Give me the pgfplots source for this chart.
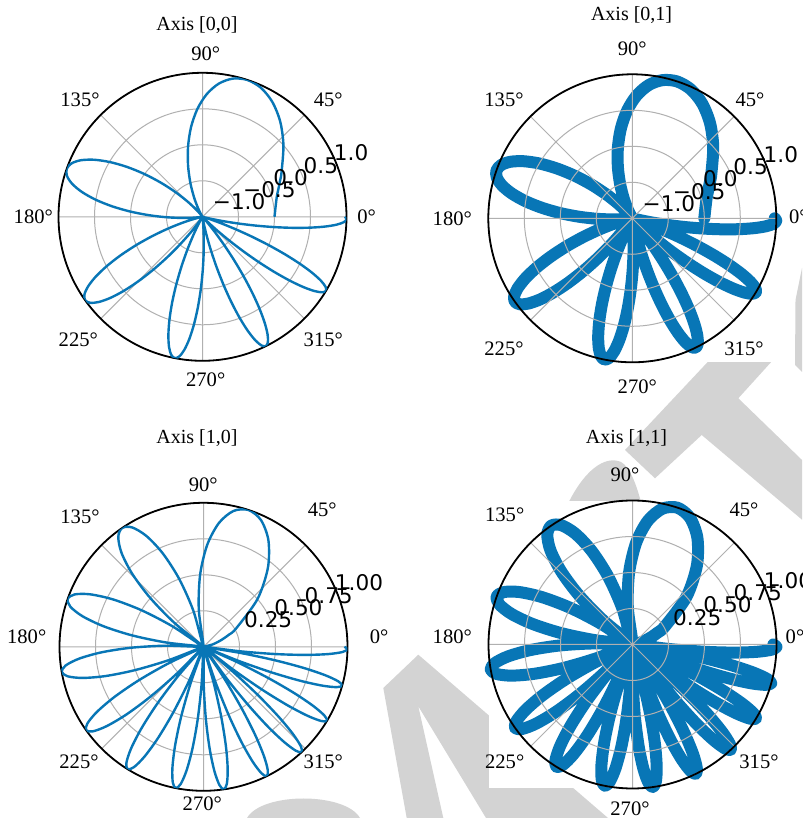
\documentclass[border=0pt]{standalone}
\usepackage{fontspec}
\setmainfont{Liberation Serif}
\newfontfamily\dejavu{DejaVu Sans}
\usepackage{pgfplots}
\usepgfplotslibrary{polar}
\pgfplotsset{compat=1.18}
\usepackage{pgfplotstable}
\definecolor{lineblue}{RGB}{8,118,182}
\definecolor{wm}{RGB}{211,211,211}
\definecolor{gridgray}{RGB}{176,176,176}

\pgfplotstableread{
t r
0 0
14.658 0.0654
20.730 0.1305
25.389 0.1951
29.316 0.2588
41.459 0.5
50.777 0.7071
58.632 0.8660
65.553 0.9659
71.809 1
77.563 0.9659
82.918 0.8660
87.948 0.7071
92.705 0.5
97.230 0.2588
101.553 0
105.700 -0.2588
109.690 -0.5
113.540 -0.7071
117.264 -0.8660
120.873 -0.9659
124.377 -1
127.785 -0.9659
131.105 -0.8660
134.342 -0.7071
137.504 -0.5
140.594 -0.2588
143.618 0
146.580 0.2588
149.483 0.5
152.330 0.7071
155.126 0.8660
157.871 0.9659
160.570 1
163.224 0.9659
165.836 0.8660
168.407 0.7071
170.940 0.5
173.435 0.2588
175.896 0
178.322 -0.2588
180.716 -0.5
183.078 -0.7071
185.411 -0.8660
187.714 -0.9659
189.990 -1
192.238 -0.9659
194.461 -0.8660
196.658 -0.7071
198.831 -0.5
200.981 -0.2588
203.108 0
205.212 0.2588
207.295 0.5
209.358 0.7071
211.400 0.8660
213.423 0.9659
215.427 1
217.413 0.9659
219.380 0.8660
221.330 0.7071
223.263 0.5
225.180 0.2588
227.080 0
228.965 -0.2588
230.834 -0.5
232.688 -0.7071
234.528 -0.8660
236.353 -0.9659
238.164 -1
239.961 -0.9659
241.746 -0.8660
243.517 -0.7071
245.275 -0.5
247.021 -0.2588
248.754 0
250.476 0.2588
252.186 0.5
253.884 0.7071
255.571 0.8660
257.247 0.9659
258.912 1
260.566 0.9659
262.210 0.8660
263.844 0.7071
265.468 0.5
267.081 0.2588
268.686 0
270.280 -0.2588
271.865 -0.5
273.442 -0.7071
275.009 -0.8660
276.567 -0.9659
278.116 -1
279.657 -0.9659
281.189 -0.8660
282.713 -0.7071
284.229 -0.5
285.737 -0.2588
287.237 0
288.729 0.2588
290.213 0.5
291.690 0.7071
293.160 0.8660
294.622 0.9659
296.077 1
297.525 0.9659
298.966 0.8660
300.400 0.7071
301.827 0.5
303.247 0.2588
304.661 0
306.068 -0.2588
307.469 -0.5
308.863 -0.7071
310.251 -0.8660
311.633 -0.9659
313.009 -1
314.379 -0.9659
315.743 -0.8660
317.101 -0.7071
318.453 -0.5
319.800 -0.2588
321.141 0
322.476 0.2588
323.806 0.5
325.130 0.7071
326.449 0.8660
327.763 0.9659
329.071 1
330.374 0.9659
331.673 0.8660
332.966 0.7071
334.254 0.5
335.537 0.2588
336.815 0
338.089 -0.2588
339.358 -0.5
340.622 -0.7071
341.881 -0.8660
343.136 -0.9659
344.386 -1
345.632 -0.9659
346.872 -0.8660
348.109 -0.7071
349.341 -0.5
350.569 -0.2588
351.792 0
353.011 0.2588
354.227 0.5
355.438 0.7071
356.645 0.8660
357.847 0.9659
359.046 1
360 0.9783
}\datatable

\pgfplotsset{
  mypolar/.style={
    width=144pt, height=144pt, scale only axis,
    anchor=center,
    xmin=0, xmax=360, ymin=0, ymax=1,
    xtick={0,45,...,315}, ytick={0.25,0.5,0.75,1},
    tick label style={opacity=0, text opacity=0},
    grid=major,
    major grid style={gridgray, line width=0.5pt},
    axis line style={black, line width=0.9pt},
    y axis line style={draw=none},
    major tick length=0pt,
  },
  lineplot/.style={lineblue, line width=1.2pt, line join=round, no markers, smooth},
  scatplot/.style={lineblue, line width=6pt, line join=round, line cap=round, no markers, smooth},
}

\newcommand{\anglab}[2]{\node[font=\fontsize{10.3}{12}\selectfont, inner sep=0pt] at (#1) {#2};}
\newcommand{\rlab}[3]{\node[font=\dejavu\fontsize{10.8}{12}\selectfont, anchor=base west, inner sep=0pt] at (#1pt,#2pt) {#3};}

\begin{document}
\begin{tikzpicture}[x=1pt,y=1pt]
\useasboundingbox (0,0) rectangle (401,409);
\fill[white] (0,0) rectangle (401,409);

% watermark shapes behind the panels
\fill[wm] (354.8,229) -- (386.5,229) -- (369.15,209.85) -- (401,179) -- (401,149.15)
  -- (350.85,191.5) -- (327.5,169.85) -- (312.5,184) -- cycle;
\fill[wm] (401,275) -- (397.75,259) -- (397.5,226.5) -- (401,223) -- cycle;
\fill[wm] (203.35,0) -- (191.65,65) -- (209.15,81.65) -- (304,0) -- (243,0)
  -- (209.15,55.85) -- (221.65,0) -- cycle;
\fill[wm] (123.5,0) .. controls (131,13) and (172.5,13) .. (180,0) -- cycle;
\fill[wm] (282.5,154) .. controls (291.5,174) and (302.5,181.5) .. (310.5,178)
  .. controls (315,175.5) and (318.5,166.5) .. (321.5,154) -- cycle;

% white axes backgrounds
\fill[white] (244.5,228.2) rectangle (387.8,371.5);
\fill[white] (244.6,15.15) rectangle (387.9,158.35);

% Axis [0,0]
\begin{polaraxis}[mypolar, at={(101.25pt,300.6pt)}]
\addplot[lineplot] table[x=t, y expr={(\thisrow{r}+1)/2}] {\datatable};
\end{polaraxis}

% Axis [0,1]
\begin{polaraxis}[mypolar, at={(316.15pt,299.85pt)}, clip=false, axis on top]
\addplot[scatplot] table[x=t, y expr={(\thisrow{r}+1)/2}] {\datatable};
\end{polaraxis}

% Axis [1,0]
\begin{polaraxis}[mypolar, at={(101.75pt,85.6pt)}]
\addplot[lineplot] table[x=t, y expr={abs(\thisrow{r})}] {\datatable};
\end{polaraxis}

% Axis [1,1]
\begin{polaraxis}[mypolar, at={(316.25pt,86.75pt)}, clip=false, axis on top]
\addplot[scatplot] table[x=t, y expr={abs(\thisrow{r})}] {\datatable};
\end{polaraxis}

% titles
\node[font=\fontsize{10}{12}\selectfont] at (98.5,396.5) {Axis [0,0]};
\node[font=\fontsize{10}{12}\selectfont] at (315.8,401.5) {Axis [0,1]};
\node[font=\fontsize{10}{12}\selectfont] at (98.5,189.8) {Axis [1,0]};
\node[font=\fontsize{10}{12}\selectfont] at (313.2,189.8) {Axis [1,1]};

% angle labels
\anglab{102.85,382.35}{90°}\anglab{164.15,359}{45°}\anglab{183.35,300.65}{0°}\anglab{40,359}{135°}
\anglab{16.65,300.65}{180°}\anglab{39.15,239}{225°}\anglab{102.85,219}{270°}\anglab{161.65,239}{315°}

\anglab{316.15,384.85}{90°}\anglab{375,359}{45°}\anglab{399.15,300.65}{0°}\anglab{252,359}{135°}
\anglab{226.15,299.85}{180°}\anglab{252,234.85}{225°}\anglab{318.65,215.65}{270°}\anglab{372,234.85}{315°}

\anglab{101.65,166.5}{90°}\anglab{161.15,154}{45°}\anglab{189.6,90.65}{0°}\anglab{40,150.65}{135°}
\anglab{13.35,90.65}{180°}\anglab{39.5,28.15}{225°}\anglab{101.15,7.35}{270°}\anglab{161.65,28.15}{315°}

\anglab{312.5,171.5}{90°}\anglab{372,154}{45°}\anglab{397.5,90.65}{0°}\anglab{252.35,151.5}{135°}
\anglab{226.15,90.65}{180°}\anglab{252.35,28.15}{225°}\anglab{315,4.85}{270°}\anglab{379.5,28.15}{315°}

% radial tick labels
\begin{scope}[shift={(101.25,300.6)}]
\rlab{5}{3.5}{−1.0}\rlab{20.125}{9.625}{−0.5}\rlab{35.25}{15.75}{0.0}\rlab{50.375}{21.875}{0.5}\rlab{65.5}{28}{1.0}
\end{scope}
\begin{scope}[shift={(316.15,299.85)}]
\rlab{5}{3.5}{−1.0}\rlab{20.125}{9.625}{−0.5}\rlab{35.25}{15.75}{0.0}\rlab{50.375}{21.875}{0.5}\rlab{65.5}{28}{1.0}
\end{scope}
\begin{scope}[shift={(101.75,85.6)}]
\rlab{20.125}{9.625}{0.25}\rlab{35.25}{15.75}{0.50}\rlab{50.375}{21.875}{0.75}\rlab{65.5}{28}{1.00}
\end{scope}
\begin{scope}[shift={(316.25,86.75)}]
\rlab{20.125}{9.625}{0.25}\rlab{35.25}{15.75}{0.50}\rlab{50.375}{21.875}{0.75}\rlab{65.5}{28}{1.00}
\end{scope}
\end{tikzpicture}
\end{document}
